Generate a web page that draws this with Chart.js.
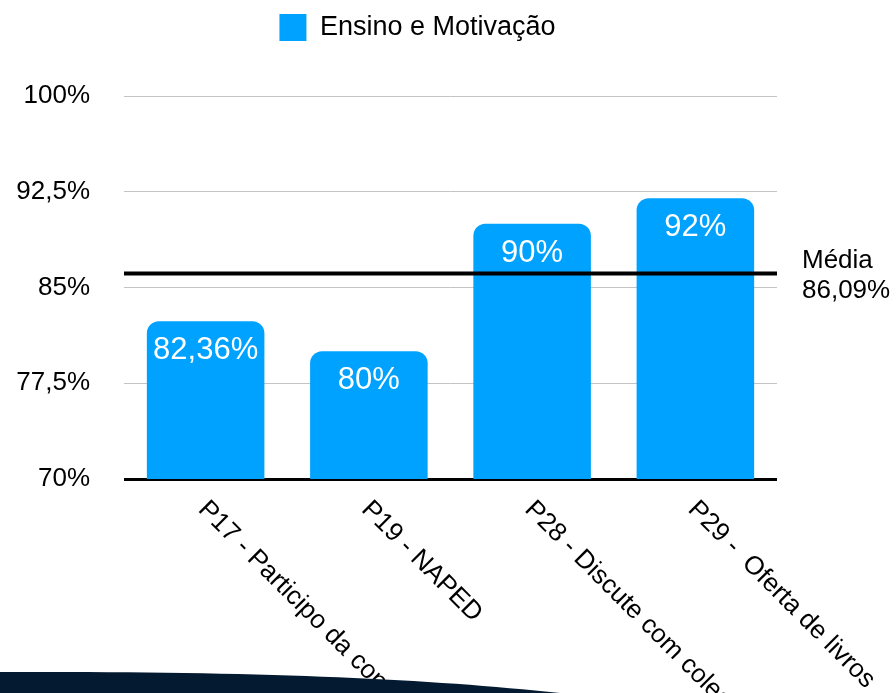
<!DOCTYPE html>
<html>
<head>
<meta charset="utf-8">
<script src="https://cdn.jsdelivr.net/npm/chart.js@4.4.0/dist/chart.umd.min.js"></script>
<style>
  html, body { margin: 0; padding: 0; background: #fff; }
  #wrap { width: 896px; height: 693px; }
</style>
</head>
<body>
<div id="wrap"><canvas id="chart"></canvas></div>
<script>
const categories = ['P17 - Participo da construção', 'P19 - NAPED', 'P28 - Discute com colegas', 'P29 -  Oferta de livros'];
const seriesLabel = 'Ensino e Motivação';
const values = [82.36, 80, 90, 92];
const valueLabels = ['82,36%', '80%', '90%', '92%'];
const yTicks = [70, 77.5, 85, 92.5, 100];
const media = 86.09;
const mediaLabel = ['Média', '86,09%'];

const FONT = '"Liberation Sans", Arial, Helvetica, sans-serif';
Chart.defaults.font.family = FONT;
Chart.defaults.color = '#000';

// texts drawn on top of the chart: bar values, average line, rotated categories
const extras = {
  id: 'extras',
  afterLayout(chart) {
    // legend sits a bit right of the canvas centre in the original
    chart.legend.left += 24;
    chart.legend.right += 24;
  },
  afterDatasetsDraw(chart) {
    const { ctx, chartArea, scales: { y } } = chart;
    const meta = chart.getDatasetMeta(0);
    ctx.save();
    ctx.font = '31px ' + FONT;
    ctx.fillStyle = '#fff';
    ctx.textAlign = 'center';
    ctx.textBaseline = 'alphabetic';
    meta.data.forEach((bar, i) => ctx.fillText(valueLabels[i], bar.x, bar.y + 38));

    const my = y.getPixelForValue(media);
    ctx.strokeStyle = '#000';
    ctx.lineWidth = 4;
    ctx.beginPath();
    ctx.moveTo(chartArea.left, my);
    ctx.lineTo(chartArea.right, my);
    ctx.stroke();

    ctx.fillStyle = '#000';
    ctx.textAlign = 'left';
    ctx.font = '26px ' + FONT;
    ctx.fillText(mediaLabel[0], chartArea.right + 25, my - 6);
    ctx.fillText(mediaLabel[1], chartArea.right + 25, my + 24);
    ctx.restore();
  },
  afterDraw(chart) {
    const { ctx, chartArea, scales: { x } } = chart;
    ctx.save();
    ctx.font = '26px ' + FONT;
    ctx.fillStyle = '#000';
    ctx.textAlign = 'left';
    ctx.textBaseline = 'alphabetic';
    categories.forEach((c, i) => {
      const px = x.getPixelForValue(i);
      ctx.save();
      ctx.translate(px + 5, chartArea.bottom + 18);
      ctx.rotate(Math.PI / 4);
      ctx.fillText(c, 0, 19);
      ctx.restore();
    });

    // dark swoosh at the bottom of the slide
    const h = chart.height;
    ctx.fillStyle = '#031a31';
    ctx.beginPath();
    ctx.moveTo(0, h - 21);
    ctx.bezierCurveTo(250, h - 22, 420, h - 15, 560, h);
    ctx.lineTo(0, h);
    ctx.closePath();
    ctx.fill();
    ctx.restore();
  }
};

new Chart(document.getElementById('chart'), {
  type: 'bar',
  data: {
    labels: categories,
    datasets: [{
      label: seriesLabel,
      data: values,
      backgroundColor: '#00a2ff',
      borderWidth: 0,
      borderRadius: 12,
      borderSkipped: false,
      barPercentage: 0.72,
      categoryPercentage: 1
    }]
  },
  options: {
    responsive: true,
    maintainAspectRatio: false,
    animation: false,
    layout: { padding: { left: 10, right: 119, top: 0, bottom: 0 } },
    plugins: {
      legend: {
        position: 'top',
        labels: {
          boxWidth: 27,
          boxHeight: 27,
          padding: 14,
          color: '#000',
          font: { size: 27 }
        }
      },
      // empty title used as a spacer between legend and plot
      title: {
        display: true,
        text: '',
        weight: 500,
        font: { size: 10 },
        padding: { top: 0, bottom: 33 }
      },
      tooltip: { enabled: false }
    },
    scales: {
      x: {
        grid: { display: false },
        border: { display: false },
        ticks: { display: false },
        afterFit(s) { s.height = 214; }
      },
      y: {
        min: 70,
        max: 100,
        afterBuildTicks(s) { s.ticks = yTicks.map(v => ({ value: v })); },
        afterFit(s) { s.width = 114; },
        border: { display: false },
        grid: {
          drawTicks: false,
          color: c => (c.tick && c.tick.value === 70) ? '#000' : '#c4c4c4',
          lineWidth: c => (c.tick && c.tick.value === 70) ? 3 : 1
        },
        ticks: {
          padding: 34,
          color: '#000',
          font: { size: 26 },
          callback: v => String(v).replace('.', ',') + '%'
        }
      }
    }
  },
  plugins: [extras]
});
</script>
</body>
</html>
